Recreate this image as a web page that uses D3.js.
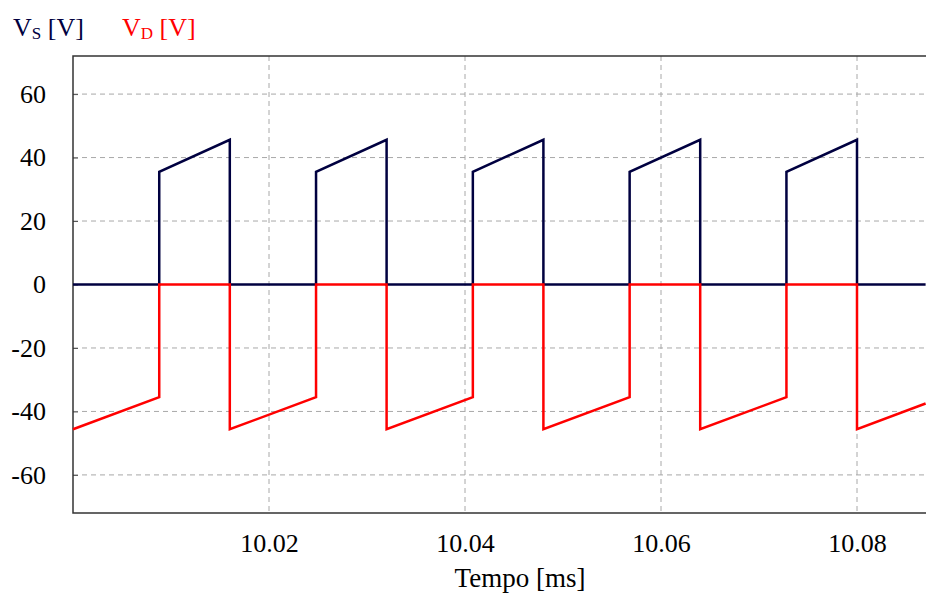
<!DOCTYPE html>
<html>

<head>
    <meta charset="utf-8">
    <style>
        body {
            margin: 0;
            background: #fff;
        }

        svg {
            font-family: 'Liberation Serif', 'Times New Roman', serif;
        }

        .grid line {
            stroke: #a8a8a8;
            stroke-width: 1;
            stroke-dasharray: 5, 4;
        }

        .axis .domain {
            display: none;
        }

        .axis .tick line {
            stroke: #555;
        }

        .axis-label {
            font-size: 27px;
        }
    </style>
</head>

<body>
    <svg width="926" height="599"></svg>
</body>

<script src="https://d3js.org/d3.v7.min.js"></script>

<script>
    // breakpoints of both waveforms (time in ms, voltage in V)
    let time = [10.0, 10.0088, 10.0088, 10.016, 10.016,
        10.0248, 10.0248, 10.032, 10.032,
        10.0408, 10.0408, 10.048, 10.048,
        10.0568, 10.0568, 10.064, 10.064,
        10.0728, 10.0728, 10.08, 10.08,
        10.087]

    let vs = [0, 0, 35.5, 45.6, 0,
        0, 35.5, 45.6, 0,
        0, 35.5, 45.6, 0,
        0, 35.5, 45.6, 0,
        0, 35.5, 45.6, 0,
        0]

    let vd = [-45.6, -35.5, 0, 0, -45.6,
        -35.5, 0, 0, -45.6,
        -35.5, 0, 0, -45.6,
        -35.5, 0, 0, -45.6,
        -35.5, 0, 0, -45.6,
        -37.5]

    let xTicks = [10.02, 10.04, 10.06, 10.08]
    let yTicks = [-60, -40, -20, 0, 20, 40, 60]

    let margin = { top: 56, right: 0, bottom: 86, left: 73 }
    let width = 926
    let height = 599
    let serif = "'Liberation Serif', 'Times New Roman', serif"

    let svg = d3.select("svg")

    let x = d3.scaleLinear()
        .domain([10.0, 10.087])
        .range([margin.left, margin.left + 0.087 * 9800])

    let y = d3.scaleLinear()
        .domain([-72, 72])
        .range([height - margin.bottom, margin.top])

    // grid
    svg.append("g")
        .attr("class", "grid")
        .selectAll("line.h")
        .data(yTicks)
        .join("line")
        .attr("x1", margin.left)
        .attr("x2", width)
        .attr("y1", d => y(d))
        .attr("y2", d => y(d))

    svg.append("g")
        .attr("class", "grid")
        .selectAll("line.v")
        .data(xTicks)
        .join("line")
        .attr("x1", d => x(d))
        .attr("x2", d => x(d))
        .attr("y1", margin.top)
        .attr("y2", height - margin.bottom)

    // axes
    let xAxis = d3.axisBottom(x)
        .tickValues(xTicks)
        .tickSize(0)
        .tickPadding(21)
        .tickFormat(d3.format(".2f"))

    svg.append("g")
        .attr("class", "x axis")
        .attr("transform", `translate(0, ${height - margin.bottom})`)
        .call(xAxis)
        .attr("font-family", serif)
        .attr("font-size", 26)
        .call(g => g.selectAll(".tick text").attr("fill", "#000"))

    let yAxis = d3.axisRight(y)
        .tickValues(yTicks)
        .tickSize(5)
        .tickPadding(-32)
        .tickFormat(d => String(d))

    svg.append("g")
        .attr("class", "y axis")
        .attr("transform", `translate(${margin.left}, 0)`)
        .call(yAxis)
        .attr("font-family", serif)
        .attr("font-size", 26)
        .call(g => g.selectAll(".tick text")
            .attr("fill", "#000")
            .attr("text-anchor", "end"))

    // frame
    svg.append("path")
        .attr("d", `M${width},${margin.top}H${margin.left}V${height - margin.bottom}H${width}`)
        .attr("fill", "none")
        .attr("stroke", "#333")
        .attr("stroke-width", 1.5)

    // waveforms
    let line = d3.line()
        .x(d => x(d[0]))
        .y(d => y(d[1]))

    svg.append("path")
        .datum(d3.zip(time, vs))
        .attr("fill", "none")
        .attr("stroke", "#000040")
        .attr("stroke-width", 2.5)
        .attr("d", line)

    svg.append("path")
        .datum(d3.zip(time, vd))
        .attr("fill", "none")
        .attr("stroke", "#ff0000")
        .attr("stroke-width", 2.5)
        .attr("d", line)

    // axis title
    svg.append("text")
        .attr("class", "axis-label")
        .attr("x", 520)
        .attr("y", 587)
        .attr("text-anchor", "middle")
        .text("Tempo [ms]")

    // legend
    let legend = svg.append("g").attr("font-size", 26)

    let ls = legend.append("text")
        .attr("x", 13)
        .attr("y", 36)
        .attr("fill", "#000040")
    ls.append("tspan").text("V")
    ls.append("tspan").attr("font-size", 17).attr("dy", 3).text("S")
    ls.append("tspan").attr("dy", -3).text(" [V]")

    let ld = legend.append("text")
        .attr("x", 122)
        .attr("y", 36)
        .attr("fill", "#ff0000")
    ld.append("tspan").text("V")
    ld.append("tspan").attr("font-size", 17).attr("dy", 3).text("D")
    ld.append("tspan").attr("dy", -3).text(" [V]")
</script>

</html>
